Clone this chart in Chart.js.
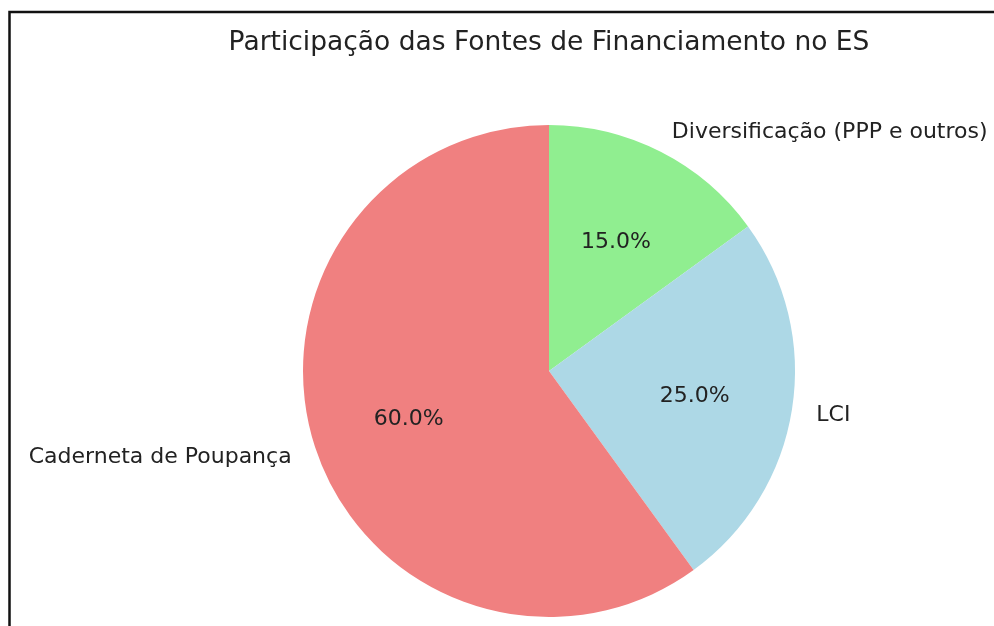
<!DOCTYPE html>
<html>
<head>
<meta charset="utf-8">
<script src="https://cdn.jsdelivr.net/npm/chart.js@4/dist/chart.umd.min.js"></script>
<style>
html,body{margin:0;padding:0;background:#fff;}
canvas{display:block;}
</style>
</head>
<body>
<canvas id="c" width="994" height="626"></canvas>
<script>
// Data (clockwise from top, as drawn)
const categories = ["Diversificação (PPP e outros)", "LCI", "Caderneta de Poupança"];
const shares = [15, 25, 60];
const sliceColors = ["#90EE90", "#ADD8E6", "#F08080"];
const chartTitle = "Participação das Fontes de Financiamento no ES";

const FONT = "'DejaVu Sans', sans-serif";
const TEXT_SIZE = 22;

const framePlugin = {
  id: 'frame',
  beforeDraw(chart) {
    const ctx = chart.ctx;
    ctx.save();
    ctx.fillStyle = '#fff';
    ctx.fillRect(0, 0, chart.width, chart.height);
    ctx.strokeStyle = '#111';
    ctx.lineWidth = 2.5;
    ctx.beginPath();
    ctx.moveTo(9.5, chart.height);
    ctx.lineTo(9.5, 12);
    ctx.lineTo(chart.width, 12);
    ctx.stroke();
    // title
    const ca = chart.chartArea;
    ctx.fillStyle = '#222';
    ctx.font = "26.5px " + FONT;
    ctx.textAlign = 'center';
    ctx.textBaseline = 'alphabetic';
    ctx.fillText(chartTitle, (ca.left + ca.right) / 2, 50);
    ctx.restore();
  }
};

const labelPlugin = {
  id: 'pieLabels',
  afterDatasetsDraw(chart) {
    const ctx = chart.ctx;
    const meta = chart.getDatasetMeta(0);
    const data = chart.data.datasets[0].data;
    const total = data.reduce((a, b) => a + b, 0);
    const capShift = TEXT_SIZE * 0.365;
    ctx.save();
    ctx.font = TEXT_SIZE + "px " + FONT;
    ctx.fillStyle = '#222';
    ctx.textBaseline = 'alphabetic';
    meta.data.forEach((arc, i) => {
      const p = arc.getProps(['x', 'y', 'startAngle', 'endAngle', 'outerRadius'], true);
      const mid = (p.startAngle + p.endAngle) / 2;
      const c = Math.cos(mid), s = Math.sin(mid);
      // category label at 1.1 r
      const lx = p.x + c * p.outerRadius * 1.1;
      const ly = p.y + s * p.outerRadius * 1.1;
      ctx.textAlign = c >= 0 ? 'left' : 'right';
      ctx.fillText(chart.data.labels[i], lx, ly + capShift);
      // percentage at 0.6 r
      const px = p.x + c * p.outerRadius * 0.6;
      const py = p.y + s * p.outerRadius * 0.6;
      ctx.textAlign = 'center';
      ctx.fillText((data[i] / total * 100).toFixed(1) + '%', px, py + capShift);
    });
    ctx.restore();
  }
};

new Chart(document.getElementById('c'), {
  type: 'pie',
  data: {
    labels: categories,
    datasets: [{
      data: shares,
      backgroundColor: sliceColors,
      borderWidth: 0
    }]
  },
  options: {
    responsive: false,
    animation: false,
    layout: { padding: { left: 303, right: 199, top: 125, bottom: 9 } },
    plugins: {
      legend: { display: false },
      tooltip: { enabled: false },
      title: { display: false }
    }
  },
  plugins: [framePlugin, labelPlugin]
});
</script>
</body>
</html>
